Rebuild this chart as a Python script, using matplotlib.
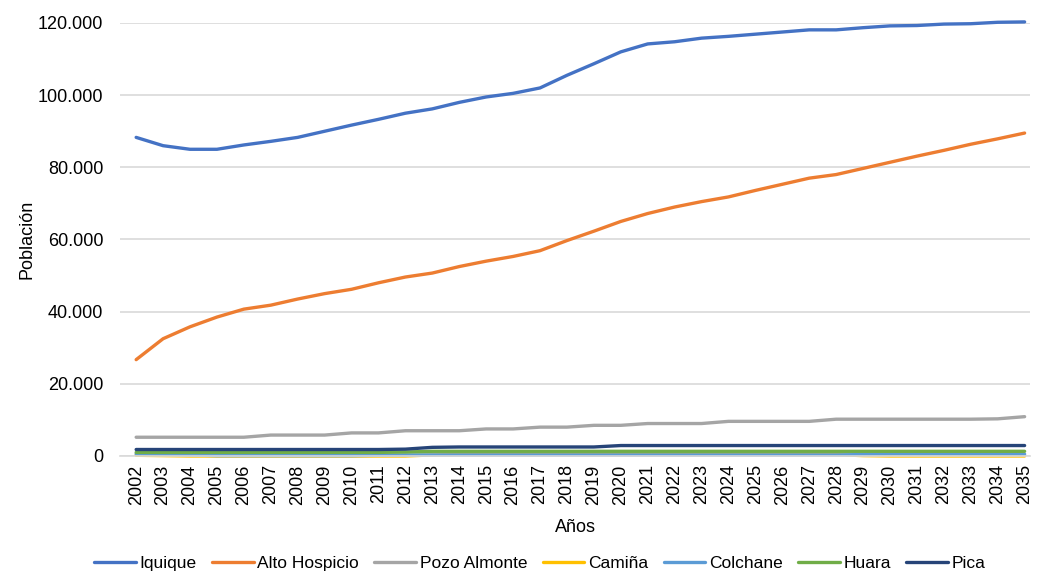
import numpy as np
from matplotlib import pyplot as plt
from matplotlib.ticker import FuncFormatter

plt.rcParams['font.family'] = ['Liberation Sans', 'DejaVu Sans']

years = list(range(2002, 2036))

iquique = [88300, 86000, 85000, 85000, 86200, 87200, 88300, 90000, 91700, 93300,
           95000, 96200, 98000, 99500, 100500, 102000, 105500, 108700, 112000, 114200,
           114800, 115800, 116300, 116900, 117500, 118100, 118100, 118700, 119200, 119300,
           119700, 119800, 120200, 120300]
alto_hospicio = [26700, 32500, 35800, 38500, 40700, 41800, 43500, 45000, 46200, 48000,
                 49600, 50700, 52500, 54000, 55300, 56900, 59700, 62300, 65000, 67200,
                 69000, 70500, 71800, 73600, 75300, 77000, 78000, 79700, 81400, 83100,
                 84700, 86400, 87900, 89500]
pozo_almonte = [5200, 5200, 5200, 5200, 5200, 5800, 5800, 5800, 6400, 6400,
                7000, 7000, 7000, 7500, 7500, 8000, 8000, 8500, 8500, 9000,
                9000, 9000, 9600, 9600, 9600, 9600, 10200, 10200, 10200, 10200,
                10200, 10200, 10300, 10900]
camina = [200, 100, 0, 0, 0, 0, 0, 0, 0, 0,
          0, 300, 400, 400, 400, 400, 400, 400, 400, 400,
          400, 400, 400, 400, 400, 400, 400, 100, 0, 0,
          0, 0, 0, 0]
colchane = [600, 500, 300, 100, 100, 100, 100, 100, 100, 200,
            300, 300, 300, 300, 300, 300, 300, 300, 300, 300,
            300, 300, 300, 300, 300, 300, 300, 400, 500, 500,
            500, 500, 500, 500]
huara = [1000, 1000, 1000, 1000, 1000, 1000, 1000, 1000, 1000, 1000,
         1100, 1300, 1300, 1300, 1300, 1300, 1300, 1300, 1300, 1300,
         1300, 1300, 1300, 1300, 1300, 1300, 1300, 1300, 1300, 1300,
         1300, 1300, 1300, 1300]
pica = [1800, 1800, 1800, 1800, 1800, 1800, 1800, 1800, 1800, 1800,
        1900, 2400, 2500, 2500, 2500, 2500, 2500, 2500, 2900, 2900,
        2900, 2900, 2900, 2900, 2900, 2900, 2900, 2900, 2900, 2900,
        2900, 2900, 2900, 2900]

series = [
    ('Iquique', iquique, '#4472C4'),
    ('Alto Hospicio', alto_hospicio, '#ED7D31'),
    ('Pozo Almonte', pozo_almonte, '#A5A5A5'),
    ('Camiña', camina, '#FFC000'),
    ('Colchane', colchane, '#5B9BD5'),
    ('Huara', huara, '#70AD47'),
    ('Pica', pica, '#264478'),
]

fig = plt.figure(figsize=(10.48, 5.88), dpi=100)
ax = fig.add_axes([120 / 1048, 1 - 456 / 588, 910 / 1048, 433 / 588])

for name, values, color in series:
    ax.plot(years, values, color=color, linewidth=2.4, label=name,
            solid_capstyle='round', clip_on=False)

ax.set_ylim(0, 120000)
ax.set_xlim(2001.4, 2035.2)
ax.set_yticks(np.arange(0, 120001, 20000))
ax.yaxis.set_major_formatter(FuncFormatter(lambda v, p: f'{int(v):,}'.replace(',', '.')))
ax.set_xticks(years)
ax.set_xticklabels([str(y) for y in years], rotation=90)
ax.grid(axis='y', color='#D9D9D9', linewidth=1.2)
ax.set_axisbelow(True)
for s in ['top', 'right', 'left']:
    ax.spines[s].set_visible(False)
ax.spines['bottom'].set_color('#D9D9D9')
ax.spines['bottom'].set_linewidth(1.2)
ax.tick_params(axis='both', length=0, labelsize=13, colors='black')
ax.tick_params(axis='y', pad=12)
ax.tick_params(axis='x', pad=6)

ax.set_ylabel('Población', fontsize=13, labelpad=2)
ax.set_xlabel('Años', fontsize=13, labelpad=10)

fig.legend(loc='center', bbox_to_anchor=(0.515, 1 - 563 / 588), ncol=7, frameon=False,
           fontsize=12.5, handlelength=2.4, columnspacing=0.9, handletextpad=0.2)

fig.savefig('out.png', dpi=100)
